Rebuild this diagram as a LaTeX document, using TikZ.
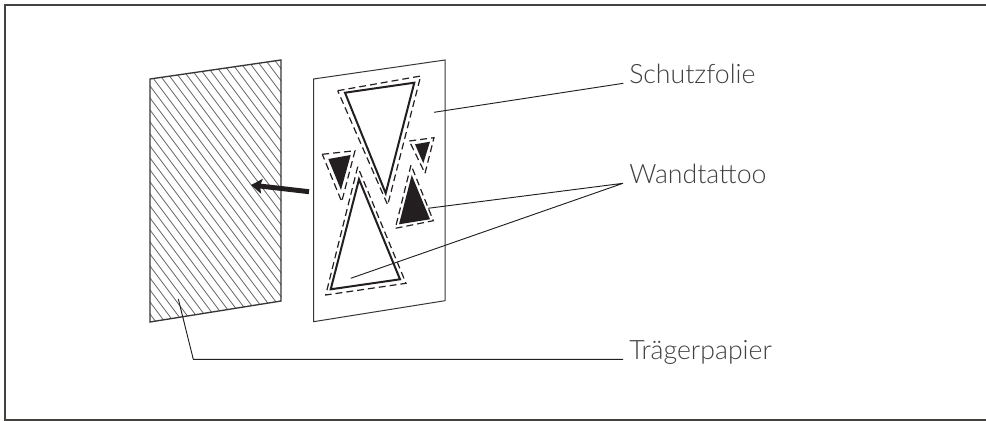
\documentclass[tikz,border=0pt]{standalone}
\usepackage{fontspec}
\setmainfont{Lato Light}
\usetikzlibrary{arrows.meta}
\definecolor{ink}{HTML}{231F20}
\definecolor{labelink}{HTML}{404040}
\tikzset{
  frameline/.style={draw=ink!85,line width=1.1pt},
  sheet/.style={draw=ink!90,line width=0.75pt,line join=miter},
  hatchline/.style={draw=ink!70,line width=0.6pt},
  outline/.style={draw=ink,line width=1.5pt,line join=miter},
  solidtri/.style={fill=ink,draw=none},
  cutline/.style={draw=ink,line width=0.9pt,dash pattern=on 5.2pt off 3pt},
  leader/.style={draw=ink,line width=0.7pt,line join=bevel},
  tag/.style={anchor=base west,inner sep=0pt,text=labelink,font=\fontsize{20pt}{24pt}\selectfont},
  movearrow/.style={draw=ink,line width=3.7pt,-{Stealth[length=8.2pt,width=11pt,inset=1.5pt]}}
}
\begin{document}
\begin{tikzpicture}[x=0.75pt,y=-0.75pt]
\useasboundingbox (0,0) rectangle (986,421);
% frame
\draw[frameline] (990,5) -- (5,5) -- (5,420) -- (990,420);
% carrier sheet with hatch
\coordinate (pa) at (150,79);
\coordinate (pb) at (281,60);
\coordinate (pc) at (281,301);
\coordinate (pd) at (150,322);
\begin{scope}
  \clip (pa) -- (pb) -- (pc) -- (pd) -- cycle;
  \foreach \k in {-30,...,22}
    \draw[hatchline] (150+\k*9,50) -- ++(225,300);
\end{scope}
\draw[sheet,line width=1pt] (pa) -- (pb) -- (pc) -- (pd) -- cycle;
% protective foil
\coordinate (fa) at (313.5,79);
\coordinate (fb) at (445,60);
\coordinate (fc) at (445,300.7);
\coordinate (fd) at (313.5,321.7);
\draw[sheet] (fa) -- (fb) -- (fc) -- (fd) -- cycle;
% tattoo shapes
\draw[outline] (345,92.7) -- (414.3,82.7) -- (385.7,193.3) -- cycle;
\draw[cutline] (337.7,90.7) -- (420.7,76) -- (387.7,205) -- cycle;
\draw[outline] (359,179.3) -- (330.7,289.3) -- (400,279.3) -- cycle;
\draw[cutline] (357.7,166.7) -- (325.7,295) -- (406,283.3) -- cycle;
\fill[solidtri] (328.3,159) -- (350.7,155) -- (341,190) -- cycle;
\draw[cutline] (322.3,154.3) -- (355,150.7) -- (341.7,201.7) -- cycle;
\fill[solidtri] (415,144.3) -- (430,141.7) -- (423.3,163.3) -- cycle;
\draw[cutline] (409.3,141) -- (434,137.7) -- (425,173.3) -- cycle;
\fill[solidtri] (411.7,175) -- (399,224.3) -- (430,219.3) -- cycle;
\draw[cutline] (411,165) -- (395.3,228.3) -- (433.3,220.7) -- cycle;
% arrow
\coordinate (atail) at (309,191.7);
\coordinate (atip) at (251,185);
\draw[movearrow] (atail) -- (atip);
% labels
\node[tag] (schutz) at (629,83) {Schutzfolie};
\node[tag] (wand) at (629,183) {Wandtattoo};
\node[tag] (traeger) at (629,359.3) {Trägerpapier};
% leaders
\coordinate (ljs) at (623.3,83.3);
\coordinate (ljw) at (623,183.3);
\coordinate (ljt) at (623,359.3);
\coordinate (ls) at (434,112.3);
\coordinate (lw1) at (428,208.3);
\coordinate (lw2) at (350.7,278.3);
\coordinate (lt) at (178.3,299);
\coordinate (ltk) at (193.3,359.3);
\draw[leader] (ls) -- (ljs);
\draw[leader] (lw1) -- (ljw) -- (lw2);
\draw[leader] (lt) -- (ltk) -- (ljt);
\end{tikzpicture}
\end{document}
